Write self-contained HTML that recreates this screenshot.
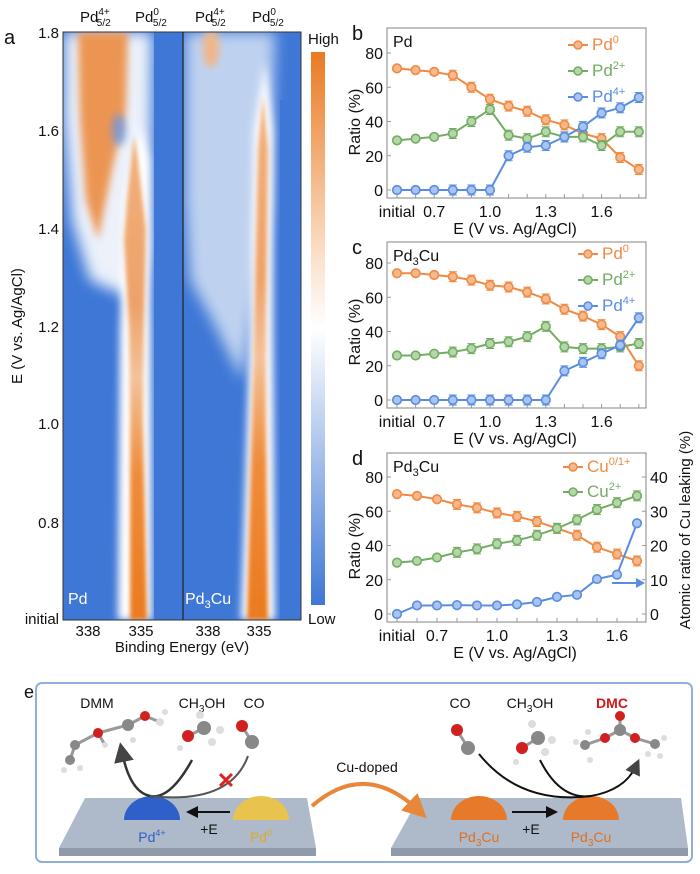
<!DOCTYPE html>
<html><head><meta charset="utf-8"><style>
html,body{margin:0;padding:0;background:#fff}
svg{display:block;font-family:"Liberation Sans",Arial,sans-serif}
</style></head><body>
<svg id="s" width="700" height="874" viewBox="0 0 700 874" xmlns="http://www.w3.org/2000/svg">
<defs>
<filter id="b2" x="-50%" y="-20%" width="200%" height="140%"><feGaussianBlur stdDeviation="2"/></filter>
<filter id="b4" x="-50%" y="-20%" width="200%" height="140%"><feGaussianBlur stdDeviation="4"/></filter>
<filter id="b7" x="-50%" y="-20%" width="200%" height="140%"><feGaussianBlur stdDeviation="7"/></filter>
<clipPath id="cl"><rect x="63" y="32" width="120" height="588"/></clipPath>
<clipPath id="cr"><rect x="183" y="32" width="118" height="588"/></clipPath>
<linearGradient id="og" x1="0" y1="0" x2="0" y2="1">
<stop offset="0" stop-color="#f2b07c"/><stop offset="0.35" stop-color="#eea26a"/><stop offset="0.5" stop-color="#f3c29a"/><stop offset="0.7" stop-color="#ee8c3c"/><stop offset="1" stop-color="#eb7a1f"/></linearGradient>
<linearGradient id="cb" x1="0" y1="0" x2="0" y2="1">
<stop offset="0" stop-color="#eb7a22"/><stop offset="0.38" stop-color="#fbe3cf"/><stop offset="0.5" stop-color="#ffffff"/><stop offset="0.7" stop-color="#b3c9ee"/><stop offset="1" stop-color="#3e77d6"/></linearGradient>
<marker id="ah" markerWidth="8" markerHeight="8" refX="4" refY="4" orient="auto"><path d="M0,0 L8,4 L0,8 z" fill="#444"/></marker>
<marker id="ah2" markerWidth="6" markerHeight="6" refX="3" refY="3" orient="auto"><path d="M0,0 L6,3 L0,6 z" fill="#e8863a"/></marker>
<marker id="ah3" markerWidth="6" markerHeight="6" refX="3" refY="3" orient="auto"><path d="M0,0 L6,3 L0,6 z" fill="#111"/></marker>
</defs>

<!-- heatmap left -->
<g clip-path="url(#cl)">
<rect x="63" y="32" width="120" height="588" fill="#3e77d6"/>
<polygon points="64,32 152,32 150,250 140,300 112,290 90,280 72,220 64,120" fill="#fff" opacity="0.9" filter="url(#b7)"/>
<polygon points="78,32 128,32 126,110 112,170 98,240 86,200 80,120" fill="#ec9552" filter="url(#b4)"/>
<ellipse cx="119" cy="130" rx="7" ry="16" fill="#6a95e0" opacity="0.8" filter="url(#b4)"/>
<polygon points="118,620 152,620 151,330 149,160 140,125 124,200 120,330" fill="#fff" filter="url(#b4)"/>
<polygon points="130,620 147,620 143,420 144,330 146,230 138,160 134,135 127,200 124,240 129,330 130,420" fill="url(#og)" filter="url(#b2)"/>
<rect x="154" y="32" width="29" height="588" fill="#3e77d6"/>
</g>
<!-- heatmap right -->
<g clip-path="url(#cr)">
<rect x="183" y="32" width="118" height="588" fill="#3e77d6"/>
<polygon points="185,32 275,32 270,200 252,320 242,380 212,320 190,280 185,200" fill="#d5e2f5" opacity="0.85" filter="url(#b7)"/>
<ellipse cx="211" cy="48" rx="8" ry="20" fill="#f2b587" filter="url(#b4)"/>
<polygon points="241,620 275,620 273,330 273,130 265,60 254,130 250,330" fill="#fff" filter="url(#b4)"/>
<polygon points="247,620 268,620 266,420 266,330 268,150 263,95 258,150 254,330 252,420" fill="url(#og)" filter="url(#b2)"/>
<rect x="280" y="100" width="21" height="520" fill="#3e77d6"/>
</g>
<rect x="63" y="32" width="238" height="588" fill="none" stroke="#333" stroke-width="1"/>
<line x1="183" y1="32" x2="183" y2="620" stroke="#222" stroke-width="1.2"/>
<rect x="311" y="52" width="14" height="553" fill="url(#cb)"/>
<g font-size="15" fill="#111">
<text x="308" y="44">High</text><text x="308" y="624">Low</text>
<text x="4" y="44" font-size="20">a</text>
<g text-anchor="end"><text x="59" y="38">1.8</text><text x="59" y="136">1.6</text><text x="59" y="234">1.4</text><text x="59" y="332">1.2</text><text x="59" y="429">1.0</text><text x="59" y="528">0.8</text><text x="59" y="624">initial</text></g>
<g text-anchor="middle"><text x="88" y="636">338</text><text x="141" y="636">335</text><text x="208" y="636">338</text><text x="259" y="636">335</text>
<text x="182" y="652">Binding Energy (eV)</text></g>
<text transform="translate(22,326) rotate(-90)" text-anchor="middle">E (V vs. Ag/AgCl)</text>
<text x="80" y="22">Pd<tspan font-size="10" dy="-7">4+</tspan><tspan font-size="10" dx="-13" dy="11">5/2</tspan></text>
<text x="135" y="22">Pd<tspan font-size="10" dy="-7">0</tspan><tspan font-size="10" dx="-6" dy="11">5/2</tspan></text>
<text x="195" y="22">Pd<tspan font-size="10" dy="-7">4+</tspan><tspan font-size="10" dx="-13" dy="11">5/2</tspan></text>
<text x="252" y="22">Pd<tspan font-size="10" dy="-7">0</tspan><tspan font-size="10" dx="-6" dy="11">5/2</tspan></text>
</g>
<text x="68" y="604" font-size="16" fill="#fff">Pd</text>
<text x="185" y="604" font-size="16" fill="#fff">Pd<tspan font-size="11" dy="4">3</tspan><tspan dy="-4">Cu</tspan></text>

<g id="charts"></g>

<!-- panel e -->
<text x="24" y="698" font-size="18" fill="#111">e</text>
<rect x="36" y="683" width="656" height="179" rx="6" fill="none" stroke="#8eb0d8" stroke-width="2"/>
<polygon points="85,798 307,798 316,848 59,848" fill="#aeb9c9"/>
<polygon points="59,848 316,848 316,856 59,856" fill="#8f9aab"/>
<polygon points="419,798 681,798 688,848 391,848" fill="#aeb9c9"/>
<polygon points="391,848 688,848 688,856 391,856" fill="#8f9aab"/>
<path d="M124,820 a28,24 0 0 1 56,0 z" fill="#2f5fc8"/>
<path d="M233,820 a28,24 0 0 1 56,0 z" fill="#e8c34e"/>
<path d="M451,820 a28,24 0 0 1 56,0 z" fill="#e67a2a"/>
<path d="M563,820 a28,24 0 0 1 56,0 z" fill="#e67a2a"/>
<line x1="230" y1="812" x2="192" y2="812" stroke="#111" stroke-width="2" marker-end="url(#ah3)"/>
<line x1="512" y1="812" x2="552" y2="812" stroke="#111" stroke-width="2" marker-end="url(#ah3)"/>
<g font-size="14" text-anchor="middle">
<text x="209" y="834" fill="#111">+E</text><text x="531" y="834" fill="#111">+E</text>
<text x="152" y="842" fill="#2f5fc8">Pd<tspan font-size="9" dy="-6">4+</tspan></text>
<text x="261" y="842" fill="#d9ad2a">Pd<tspan font-size="9" dy="-6">0</tspan></text>
<text x="479" y="842" fill="#e07024">Pd<tspan font-size="10" dy="4">3</tspan><tspan dy="-4">Cu</tspan></text>
<text x="591" y="842" fill="#e07024">Pd<tspan font-size="10" dy="4">3</tspan><tspan dy="-4">Cu</tspan></text>
<text x="367" y="772" fill="#111">Cu-doped</text>
<text x="97" y="708" fill="#111">DMM</text>
<text x="202" y="708" fill="#111">CH<tspan font-size="10" dy="4">3</tspan><tspan dy="-4">OH</tspan></text>
<text x="254" y="708" fill="#111">CO</text>
<text x="460" y="708" fill="#111">CO</text>
<text x="530" y="708" fill="#111">CH<tspan font-size="10" dy="4">3</tspan><tspan dy="-4">OH</tspan></text>
<text x="612" y="708" fill="#d01818" font-weight="bold">DMC</text>
</g>
<path d="M312,806 Q365,760 418,810" fill="none" stroke="#e8863a" stroke-width="4" marker-end="url(#ah2)"/>
<path d="M192,760 Q170,800 150,796 Q130,792 122,752" fill="none" stroke="#333" stroke-width="2.5" marker-end="url(#ah)"/>
<path d="M248,756 Q230,805 150,796" fill="none" stroke="#555" stroke-width="2"/>
<text x="226" y="788" font-size="22" fill="#e02020" text-anchor="middle" font-weight="bold">✕</text>
<path d="M479,754 Q520,805 591,796 Q625,790 636,766" fill="none" stroke="#111" stroke-width="2" marker-end="url(#ah)"/>
<path d="M540,760 Q560,800 591,796" fill="none" stroke="#111" stroke-width="2"/>
<g id="mol"></g>
</svg>
<script>
var C=document.getElementById('charts');var out='';
function chart(o){
 var L=387,R=646,T=o.top,B=o.y0+8,y0=o.y0,k=137/80,st=o.step;
 out+='<rect x="'+L+'" y="'+T+'" width="'+(R-L)+'" height="'+(B-T)+'" fill="none" stroke="#999" stroke-width="1.2"/>';
 [0,20,40,60,80].forEach(function(v){var y=y0-v*k;out+='<line x1="'+L+'" x2="'+(L+4)+'" y1="'+y+'" y2="'+y+'" stroke="#999"/><text x="'+(L-4)+'" y="'+(y+6)+'" font-size="16" text-anchor="end" fill="#111">'+v+'</text>';});
 if(o.right){[0,10,20,30,40].forEach(function(v){var y=y0-v*2*k;out+='<line x1="'+(R-4)+'" x2="'+R+'" y1="'+y+'" y2="'+y+'" stroke="#999"/><text x="'+(R+4)+'" y="'+(y+6)+'" font-size="16" fill="#111">'+v+'</text>';});}
 for(var i=0;i<o.n;i++){var x=397+i*st;out+='<line x1="'+x+'" x2="'+x+'" y1="'+B+'" y2="'+(B-4)+'" stroke="#999"/>';}
 var lab=[['initial',0],['0.7',2],['1.0',5],['1.3',8],['1.6',11]];
 lab.forEach(function(l){out+='<text x="'+(397+l[1]*st)+'" y="'+(B+19)+'" font-size="16" text-anchor="middle" fill="#111">'+l[0]+'</text>';});
 out+='<text x="'+(L+128)+'" y="'+(B+36)+'" font-size="16" text-anchor="middle" fill="#111">E (V vs. Ag/AgCl)</text>';
 out+='<text transform="translate(360,'+(y0-68)+') rotate(-90)" font-size="16" text-anchor="middle" fill="#111">Ratio (%)</text>';
 out+='<text x="352" y="'+(T+12)+'" font-size="20" fill="#111">'+o.letter+'</text>';
 out+='<text x="393" y="'+(T+19)+'" font-size="16" fill="#111">'+o.title+'</text>';
 o.series.forEach(function(s){var p=s.d.map(function(v,i){return (397+i*st)+','+(y0-v*(s.sc||1)*k);});
  out+='<polyline points="'+p.join(' ')+'" fill="none" stroke="'+s.c+'" stroke-width="2"/>';
  s.d.forEach(function(v,i){var x=397+i*st,y=y0-v*(s.sc||1)*k;if(i>2&&!s.sc){out+='<line x1="'+x+'" x2="'+x+'" y1="'+(y-5)+'" y2="'+(y+5)+'" stroke="'+s.c+'" stroke-width="1"/><line x1="'+(x-4)+'" x2="'+(x+4)+'" y1="'+(y-5)+'" y2="'+(y-5)+'" stroke="'+s.c+'"/><line x1="'+(x-4)+'" x2="'+(x+4)+'" y1="'+(y+5)+'" y2="'+(y+5)+'" stroke="'+s.c+'"/>';}
   out+='<circle cx="'+x+'" cy="'+y+'" r="4.3" fill="'+s.f+'" stroke="'+s.c+'" stroke-width="1.6"/>';});
 });
 o.leg.forEach(function(l){var y=l.y;out+='<line x1="'+(l.x-24)+'" x2="'+(l.x-4)+'" y1="'+(y-5)+'" y2="'+(y-5)+'" stroke="'+l.c+'" stroke-width="2"/><circle cx="'+(l.x-14)+'" cy="'+(y-5)+'" r="4" fill="'+l.f+'" stroke="'+l.c+'" stroke-width="1.5"/><text x="'+l.x+'" y="'+y+'" font-size="17" fill="'+l.c+'">'+l.t+'</text>';});
}
var O='#ef8a43',OF='#f6b88c',G='#72ad62',GF='#b5d6aa',Bc='#5a8de0',BF='#a9c4f0';
chart({top:28,y0:190,step:18.6,n:14,letter:'b',title:'Pd',series:[
 {c:O,f:OF,d:[71,70,69,67,60,53,49,46,41,38,33,30,19,12]},
 {c:G,f:GF,d:[29,30,31,33,40,47,32,30,34,31,31,26,34,34]},
 {c:Bc,f:BF,d:[0,0,0,0,0,0,20,25,26,31,37,45,48,54]}],
 leg:[{x:592,y:50,c:O,f:OF,t:'Pd<tspan font-size="11" dy="-7">0</tspan>'},{x:592,y:76,c:G,f:GF,t:'Pd<tspan font-size="11" dy="-7">2+</tspan>'},{x:592,y:102,c:Bc,f:BF,t:'Pd<tspan font-size="11" dy="-7">4+</tspan>'}]});
chart({top:242,y0:400,step:18.6,n:14,letter:'c',title:'Pd<tspan font-size="11" dy="4">3</tspan><tspan dy="-4">Cu</tspan>',series:[
 {c:O,f:OF,d:[74,74,73,72,70,67,66,63,59,53,49,44,37,20]},
 {c:G,f:GF,d:[26,26,27,28,30,33,34,37,43,31,30,30,31,33]},
 {c:Bc,f:BF,d:[0,0,0,0,0,0,0,0,0,17,22,27,32,48]}],
 leg:[{x:602,y:259,c:O,f:OF,t:'Pd<tspan font-size="11" dy="-7">0</tspan>'},{x:602,y:285,c:G,f:GF,t:'Pd<tspan font-size="11" dy="-7">2+</tspan>'},{x:602,y:311,c:Bc,f:BF,t:'Pd<tspan font-size="11" dy="-7">4+</tspan>'}]});
chart({top:453,y0:614,step:20,n:13,letter:'d',title:'Pd<tspan font-size="11" dy="4">3</tspan><tspan dy="-4">Cu</tspan>',right:true,series:[
 {c:O,f:OF,d:[70,69,67,64,62,59,57,54,50,46,39,35,31]},
 {c:G,f:GF,d:[30,31,33,36,38,41,43,46,50,55,61,65,69]},
 {c:Bc,f:BF,sc:2,d:[0,2.5,2.5,2.6,2.5,2.5,2.8,3.5,5,5.6,10.2,11.5,26.5]}],
 leg:[{x:587,y:472,c:O,f:OF,t:'Cu<tspan font-size="11" dy="-7">0/1+</tspan>'},{x:587,y:497,c:G,f:GF,t:'Cu<tspan font-size="11" dy="-7">2+</tspan>'}]});
out+='<line x1="612" y1="583" x2="636" y2="583" stroke="'+Bc+'" stroke-width="2"/><path d="M636,578 L645,583 L636,588 z" fill="'+Bc+'"/>';
out+='<text transform="translate(690,530) rotate(-90)" font-size="15" text-anchor="middle" fill="#111">Atomic ratio of Cu leaking (%)</text>';
C.innerHTML=out;
var m='';function a(x,y,r,c){m+='<circle cx="'+x+'" cy="'+y+'" r="'+r+'" fill="'+c+'"/>';}
function bd(x1,y1,x2,y2){m+='<line x1="'+x1+'" y1="'+y1+'" x2="'+x2+'" y2="'+y2+'" stroke="#999" stroke-width="3"/>';}
var W='#ddd',R='#d02020',Gy='#888';
bd(75,745,98,733);bd(98,733,128,725);bd(128,725,145,716);bd(98,733,105,745);bd(75,745,70,760);bd(145,716,160,722);
a(75,745,5,Gy);a(98,733,5,R);a(128,725,6,Gy);a(145,716,5,R);a(70,760,5,Gy);a(160,722,4,W);a(105,745,3,W);a(64,770,3,W);a(80,768,3,W);a(133,740,3,W);a(165,712,3,W);
bd(188,736,204,728);a(188,736,6,R);a(204,728,7,Gy);a(200,715,4,W);a(220,730,4,W);a(212,742,4,W);a(180,748,3,W);
bd(242,726,252,742);a(242,726,6,R);a(252,742,7,Gy);
bd(457,730,468,748);a(457,730,6,R);a(468,748,7,Gy);
bd(522,748,538,738);a(522,748,6,R);a(538,738,7,Gy);a(532,724,4,W);a(552,740,4,W);a(545,752,4,W);a(516,762,3,W);
bd(585,745,605,738);bd(605,738,620,730);bd(620,730,635,738);bd(635,738,655,744);bd(620,730,620,716);
a(585,745,5,Gy);a(605,738,5,R);a(620,730,6,Gy);a(620,716,5,R);a(635,738,5,R);a(655,744,5,Gy);a(576,742,3,W);a(590,760,3,W);a(664,738,3,W);a(660,756,3,W);a(588,732,3,W);a(648,754,3,W);
document.getElementById('mol').innerHTML=m;
</script>
</body></html>
